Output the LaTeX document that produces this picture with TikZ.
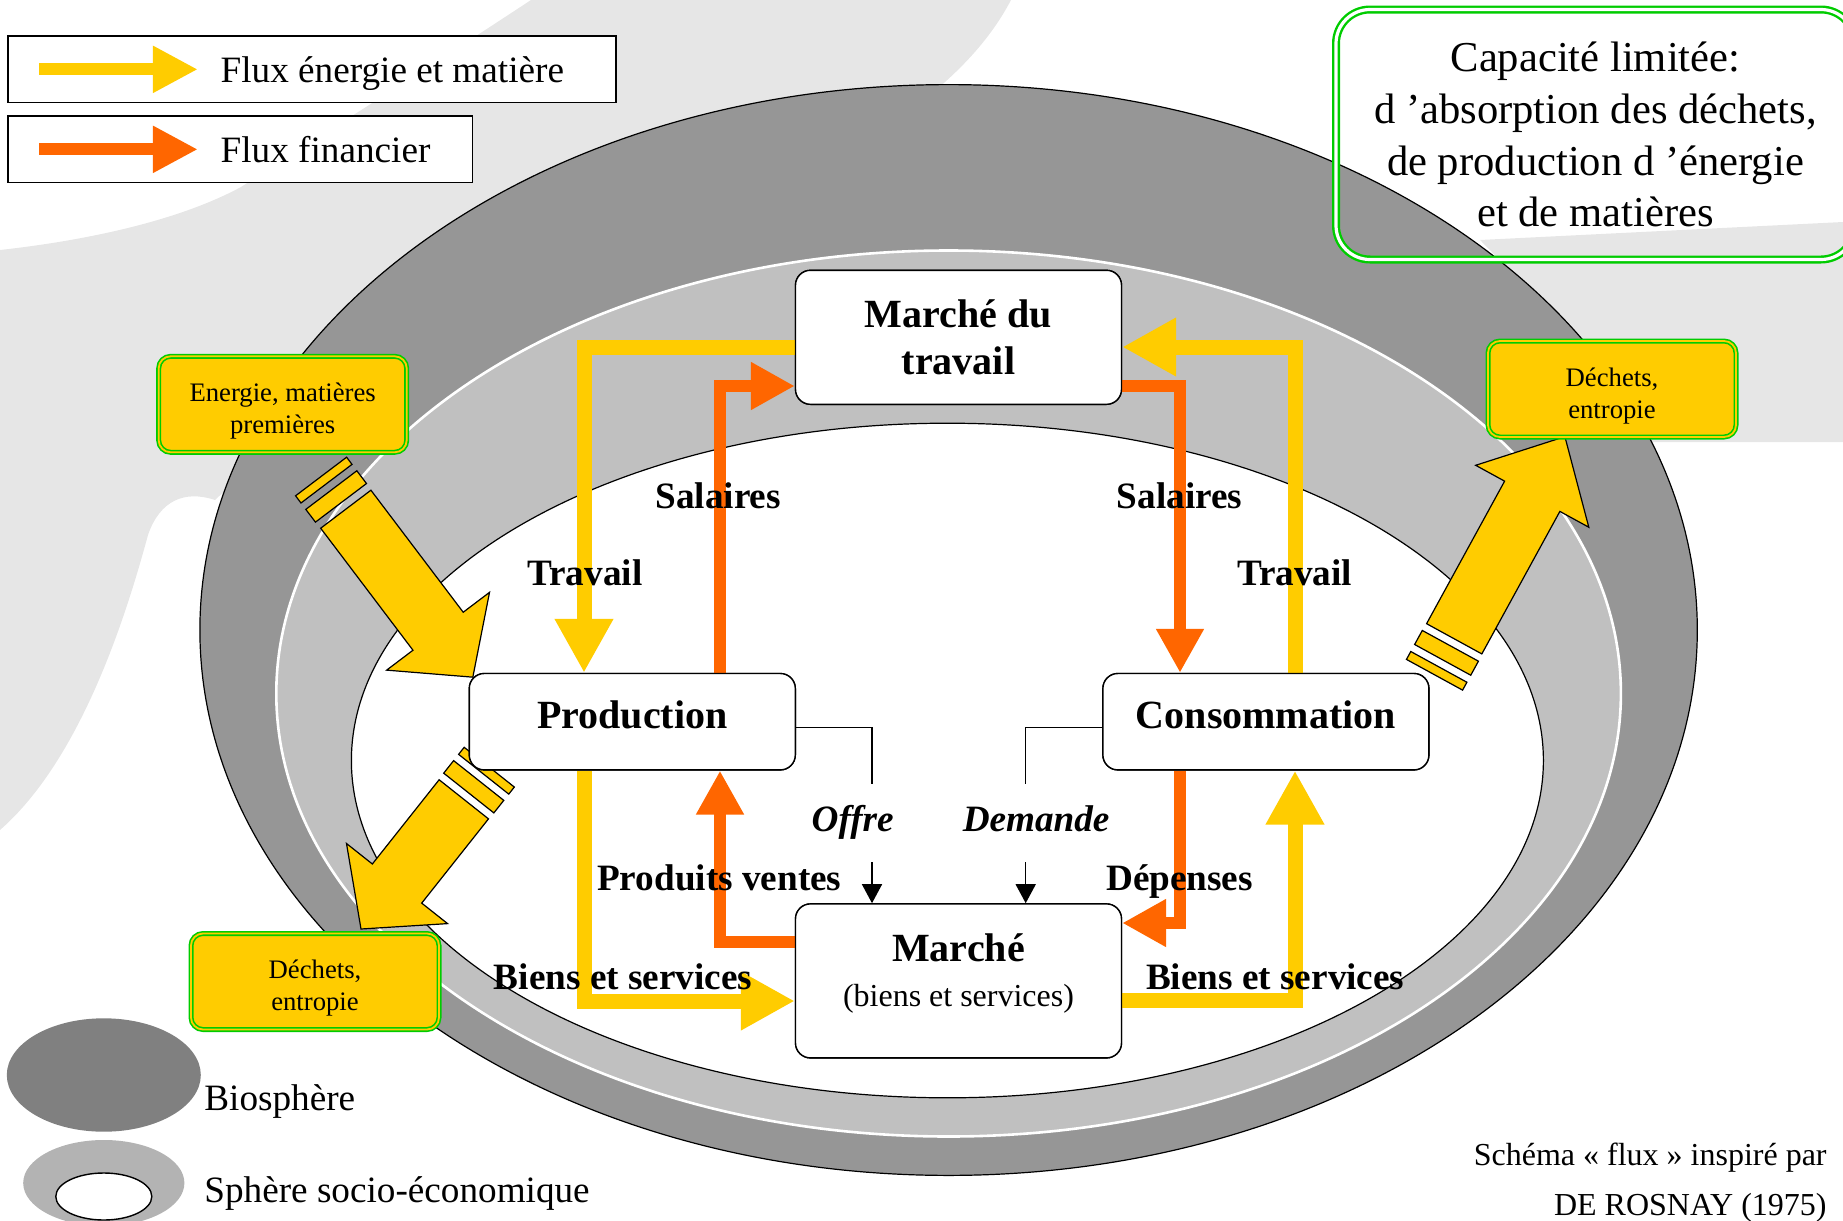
\documentclass[tikz,border=0pt]{standalone}
\usepackage{fontspec}
\setmainfont{Liberation Serif}
\usetikzlibrary{arrows.meta}

\definecolor{fluxjaune}{RGB}{255,204,0}
\definecolor{fluxorange}{RGB}{255,102,0}
\definecolor{vert}{RGB}{0,204,0}
\definecolor{biogris}{RGB}{150,150,150}
\definecolor{sociogris}{RGB}{192,192,192}
\definecolor{fondgris}{RGB}{230,230,230}
\definecolor{biolegende}{RGB}{128,128,128}
\definecolor{sociolegende}{RGB}{179,179,179}

\tikzset{
  mbox/.style={draw, line width=0.7pt, rounded corners=7.5pt, fill=white, align=center, inner sep=0pt, minimum width=163pt, font=\fontsize{20}{23.5}\selectfont\bfseries},
  ybox/.style={draw=vert, double=fluxjaune, double distance=0.9pt, line width=0.8pt, fill=fluxjaune, rounded corners=6pt, align=center, inner sep=0pt, minimum width=124pt, minimum height=48pt, font=\fontsize{13.35}{15.9}\selectfont},
  capbox/.style={draw=vert, double=white, double distance=1.6pt, line width=1.2pt, rounded corners=17pt, align=center, inner sep=0pt, minimum width=259.5pt, minimum height=125pt, font=\fontsize{21.3}{25.9}\selectfont},
  legbox/.style={draw, line width=0.7pt, fill=white, inner sep=0pt, minimum height=33.35pt},
  legtxt/.style={inner sep=0pt, anchor=base west, font=\fontsize{18.6}{22}\selectfont},
  lbl/.style={inner sep=0pt, anchor=base, font=\fontsize{18.6}{22}\selectfont\bfseries},
  yflow/.style={draw=fluxjaune, line width=7.5pt, -{Triangle[width=27.5pt,length=27pt]}},
  oflow/.style={draw=fluxorange, line width=6pt, -{Triangle[width=22.5pt,length=22pt]}},
  legyflow/.style={draw=fluxjaune, line width=6pt, -{Triangle[width=22pt,length=22.5pt]}},
  legoflow/.style={draw=fluxorange, line width=6pt, -{Triangle[width=22pt,length=22.5pt]}},
  conn/.style={line width=0.75pt},
  connarr/.style={conn, -{Triangle[width=10pt,length=9.5pt]}},
  bigarrow/.style={fill=fluxjaune, draw=black, line width=0.6pt}
}

\begin{document}
\begin{tikzpicture}[x=0.5pt,y=-0.5pt]
\useasboundingbox (0,0) rectangle (1843,1221);
\clip (0,0) rectangle (1843,1221);

%Shape: background swoosh left
\fill[fondgris] (531,0) -- (1011,0) .. controls (990,40) and (960,70) .. (930,95) -- (300,420) -- (215,500) .. controls (185,490) and (160,500) .. (148,535) .. controls (125,620) and (80,760) .. (0,830) -- (0,250) .. controls (90,240) and (180,220) .. (241,187) .. controls (330,130) and (440,60) .. (531,0) -- cycle;
%Shape: background swoosh right
\fill[fondgris] (1480,240) -- (1843,222) -- (1843,442) -- (1640,442) .. controls (1600,380) and (1540,300) .. (1480,240) -- cycle;

%Shape: Ellipse biosphere
\draw[fill=biogris, line width=0.6pt] (948.6,630) ellipse [x radius=748.7, y radius=545.4];
%Shape: Ellipse sphere socio-economique
\draw[fill=sociogris, draw=white, line width=1.3pt] (948.6,693.5) ellipse [x radius=672.3, y radius=443];
%Shape: Ellipse interieur
\draw[fill=white, line width=0.6pt] (947.4,760.5) ellipse [x radius=596, y radius=337.3];

%Shape: Arrow energie entrante
\begin{scope}[shift={(345.8,509.2)}, rotate=-52.9]
\draw[bigarrow] (0,-31.5) -- (153,-31.5) -- (153,-64.5) -- (210.6,0) -- (153,64.5) -- (153,31.5) -- (0,31.5) -- cycle;
\draw[bigarrow] (-24,-32) rectangle (-8,32);
\draw[bigarrow] (-41,-32) rectangle (-32,32);
\end{scope}
%Shape: Arrow dechets production
\begin{scope}[shift={(463.8,799.3)}, rotate=-128.4]
\draw[bigarrow] (0,-31.5) -- (107.5,-31.5) -- (107.5,-64.5) -- (165.5,0) -- (107.5,64.5) -- (107.5,31.5) -- (0,31.5) -- cycle;
\draw[bigarrow] (-24,-32) rectangle (-8,32);
\draw[bigarrow] (-41,-32) rectangle (-32,32);
\end{scope}
%Shape: Arrow dechets consommation
\begin{scope}[shift={(1454.2,638.8)}, rotate=61.3]
\draw[bigarrow] (0,-31.5) -- (162.5,-31.5) -- (162.5,-64.5) -- (230.5,0) -- (162.5,64.5) -- (162.5,31.5) -- (0,31.5) -- cycle;
\draw[bigarrow] (-24,-32) rectangle (-8,32);
\draw[bigarrow] (-41,-32) rectangle (-32,32);
\end{scope}

% Boxes (placed first, flux drawn between them)
\path (958.5,337.3) node[mbox, minimum height=67pt] (mdt) {}
      (632.3,721.7) node[mbox, minimum height=48.2pt] (prod) {}
      (1265.9,721.7) node[mbox, minimum height=48.2pt] (cons) {}
      (958.5,980.9) node[mbox, minimum height=77pt] (mar) {};

% Flux
\draw[yflow] (mdt.west |- 0,347) -| (prod.north -| 584,0);
\draw[oflow] (prod.north -| 720,0) |- (mdt.west |- 0,386);
\draw[oflow] (mdt.east |- 0,385.5) -| (cons.north -| 1180,0);
\draw[yflow] (cons.north -| 1295,0) |- (mdt.east |- 0,347);
\draw[yflow] (prod.south -| 584,0) |- (mar.west |- 0,1001);
\draw[oflow] (mar.west |- 0,942) -| (prod.south -| 720,0);
\draw[oflow] (cons.south -| 1180,0) |- (mar.east |- 0,923);
\draw[yflow] (mar.east |- 0,1000) -| (cons.south -| 1295,0);

% Box texts on top of flux
\node[mbox, minimum height=67pt] at (mdt) {Marché du\\travail};
\node[mbox, minimum height=48.2pt, text depth=7pt] at (prod) {Production};
\node[mbox, minimum height=48.2pt, text depth=7pt] at (cons) {Consommation};
\node[mbox, minimum height=77pt, font=\fontsize{20}{22.4}\selectfont\bfseries, text depth=10.5pt] at (mar) {Marché\\{\fontsize{16}{22.4}\selectfont\mdseries (biens et services)}};

% Offre / Demande
\coordinate (of1) at (872,784.3);
\coordinate (of2) at (872,862);
\coordinate (de1) at (1025.7,784.3);
\coordinate (de2) at (1025.7,862);
\draw[conn] (prod.east |- 0,727.7) -| (of1);
\draw[connarr] (of2) -- (mar.north -| of2);
\draw[conn] (cons.west |- 0,727.7) -| (de1);
\draw[connarr] (de2) -- (mar.north -| de2);

% Text Node
\node[lbl] (sal1) at (718.2,508.3) {Salaires};
\node[lbl] (trav1) at (584.8,585.9) {Travail};
\node[lbl] (sal2) at (1179.5,508.3) {Salaires};
\node[lbl] (trav2) at (1294.7,585.9) {Travail};
\node[lbl, font=\fontsize{18.6}{22}\selectfont\bfseries\itshape] (offre) at (852.7,831.6) {Offre};
\node[lbl, font=\fontsize{18.6}{22}\selectfont\bfseries\itshape] (demande) at (1036.1,831.6) {Demande};
\node[lbl] (pv) at (719.3,890.3) {Produits ventes};
\node[lbl] (dep) at (1179.5,890.3) {Dépenses};
\node[lbl] (bs1) at (623,989.1) {Biens et services};
\node[lbl] (bs2) at (1275.3,989.1) {Biens et services};

% Source and sink boxes
\node[ybox] (emp) at (282.7,404.3) {\rule{0pt}{16pt}Energie, matières\\premières};
\node[ybox] (dech1) at (1612,389) {\rule{0pt}{16pt}Déchets,\\entropie};
\node[ybox] (dech2) at (315,981.5) {\rule{0pt}{16pt}Déchets,\\entropie};

% Capacity box
\node[capbox] (cap) at (1595.5,134.5) {Capacité limitée:\\d ’absorption des déchets,\\de production d ’énergie\\et de matières};

% Legend flux
\node[legbox, minimum width=304pt] (leg1) at (312,69.35) {};
\node[legbox, minimum width=232.2pt] (leg2) at (240.2,149.35) {};
\draw[legyflow] ([xshift=16pt]leg1.west) -- ([xshift=95.3pt]leg1.west);
\draw[legoflow] ([xshift=16pt]leg2.west) -- ([xshift=95.3pt]leg2.west);
\node[legtxt] (legt1) at ([xshift=106.5pt,yshift=-6.7pt]leg1.west) {Flux énergie et matière};
\node[legtxt] (legt2) at ([xshift=106.5pt,yshift=-6.7pt]leg2.west) {Flux financier};

% Legend spheres
\fill[biolegende] (103.8,1075) ellipse [x radius=97, y radius=56.7];
\fill[sociolegende] (103.8,1183) ellipse [x radius=80.6, y radius=43];
\draw[fill=white, line width=0.7pt] (103.8,1196.5) ellipse [x radius=48, y radius=23.5];
\node[inner sep=0pt, anchor=base west, font=\fontsize{18.6}{22}\selectfont] (biotxt) at (204,1110) {Biosphère};
\node[inner sep=0pt, anchor=base west, font=\fontsize{18.6}{22}\selectfont] (sociotxt) at (204,1202) {Sphère socio-économique};

% Source
\node[inner sep=0pt, anchor=base east, font=\fontsize{16}{20}\selectfont] (src1) at (1827,1165) {Schéma « flux » inspiré par};
\node[inner sep=0pt, anchor=base east, font=\fontsize{16}{20}\selectfont] (src2) at (1827,1215) {DE ROSNAY (1975)};

\end{tikzpicture}
\end{document}
